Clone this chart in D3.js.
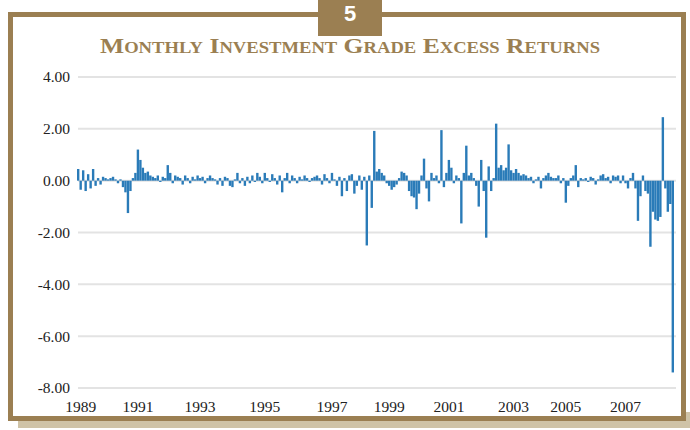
<!DOCTYPE html>
<html>
<head>
<meta charset="utf-8">
<script src="https://cdn.jsdelivr.net/npm/d3@7/dist/d3.min.js"></script>
<style>
  html, body { margin: 0; padding: 0; background: #fff; }
  svg { display: block; }
</style>
</head>
<body>
<svg id="chart" width="690" height="430"></svg>
<script>
// ---- Data (monthly excess returns, %, Jan 1989 - Dec 2008) ----
const y1989 = [0.45, -0.35, 0.40, -0.40, 0.25, -0.30, 0.45, -0.20, 0.10, -0.15, 0.15, 0.10];
const y1990 = [0.05, 0.10, 0.15, 0.05, -0.10, 0.05, -0.25, -0.45, -1.25, -0.40, 0.10, 0.30];
const y1991 = [1.20, 0.80, 0.50, 0.30, 0.35, 0.20, 0.15, 0.10, 0.20, -0.05, 0.15, 0.10];
const y1992 = [0.60, 0.30, -0.10, 0.20, 0.15, 0.10, -0.15, 0.20, 0.10, -0.10, 0.15, 0.05];
const y1993 = [0.20, 0.10, 0.15, -0.10, 0.10, 0.20, 0.10, 0.05, -0.15, 0.10, -0.20, 0.15];
const y1994 = [0.10, -0.20, -0.25, 0.05, 0.30, -0.10, 0.10, -0.20, 0.15, -0.10, 0.20, -0.05];
const y1995 = [0.30, 0.15, -0.10, 0.30, 0.10, -0.05, 0.25, 0.10, -0.15, 0.20, -0.45, 0.10];
const y1996 = [0.30, -0.10, 0.20, 0.10, -0.10, 0.15, 0.05, 0.20, 0.10, -0.05, 0.10, 0.15];
const y1997 = [0.20, 0.10, -0.15, 0.25, 0.10, -0.10, 0.30, 0.05, -0.20, 0.15, -0.60, 0.10];
const y1998 = [-0.40, 0.20, 0.25, -0.50, -0.20, 0.20, -0.35, 0.15, -2.50, 0.20, -1.05, 1.92];
const y1999 = [0.35, 0.45, 0.30, 0.20, -0.10, -0.20, -0.35, -0.25, -0.15, 0.10, 0.35, 0.30];
const y2000 = [0.20, -0.40, -0.60, -0.65, -1.10, -0.50, 0.20, 0.85, -0.30, -0.80, 0.30, 0.10];
const y2001 = [0.20, -0.10, 1.95, -0.25, 0.30, 0.80, 0.50, -0.10, 0.20, 0.10, -1.65, 0.30];
const y2002 = [1.35, 0.20, 0.30, 0.10, -0.20, -1.00, 0.80, -0.40, -2.20, 0.55, -0.40, 0.10];
const y2003 = [2.20, 0.50, 0.60, 0.40, 0.50, 1.40, 0.40, 0.30, 0.45, 0.30, 0.20, 0.25];
const y2004 = [0.20, 0.10, 0.15, -0.10, 0.05, 0.15, -0.30, 0.10, 0.20, 0.30, 0.15, 0.10];
const y2005 = [0.10, 0.20, -0.10, 0.10, -0.85, -0.20, 0.10, 0.20, 0.60, -0.25, 0.10, 0.05];
const y2006 = [0.10, -0.05, 0.15, 0.10, -0.15, 0.05, 0.20, 0.25, 0.10, 0.15, -0.10, 0.20];
const y2007 = [0.15, 0.20, -0.10, 0.20, -0.10, -0.30, 0.10, 0.30, -0.30, -1.55, -0.60, 0.20];
const y2008 = [-0.40, -0.50, -2.55, -1.20, -1.50, -1.55, -1.40, 2.45, -0.30, -1.20, -0.90, -7.40];

const returns = [].concat(y1989, y1990, y1991, y1992, y1993, y1994, y1995, y1996, y1997, y1998,
                          y1999, y2000, y2001, y2002, y2003, y2004, y2005, y2006, y2007, y2008);

const xTickLabels = ["1989", "1991", "1993", "1995", "1997", "1999", "2001", "2003", "2005", "2007"];
const xTickMonth  = [1, 24, 49, 75, 102, 125, 149, 175, 196, 220];   // month index each label sits at
const yTicks = [4, 2, 0, -2, -4, -6, -8];

const titleText = "Monthly Investment Grade Excess Returns";
const badgeText = "5";

// ---- Drawing ----
const svg = d3.select("#chart");
const brown = "#9b7f52";
const barColor = "#2a7bb8";

// frame shadow
svg.append("rect").attr("x", 18).attr("y", 412).attr("width", 672).attr("height", 16).attr("fill", "#cfc3a7");
// frame
svg.append("rect").attr("x", 10.5).attr("y", 14.5).attr("width", 673).attr("height", 404)
  .attr("fill", "#fff").attr("stroke", brown).attr("stroke-width", 5);

// badge
svg.append("rect").attr("x", 318).attr("y", 0).attr("width", 64).attr("height", 36).attr("fill", brown);
svg.append("text").attr("x", 350).attr("y", 21).attr("text-anchor", "middle")
  .attr("font-family", "Liberation Sans, Arial, sans-serif").attr("font-size", 22).attr("font-weight", "bold")
  .attr("fill", "#fff").text(badgeText);

// title in small caps
const title = svg.append("text").attr("x", 350).attr("y", 53).attr("text-anchor", "middle")
  .attr("font-family", "Liberation Serif, serif").attr("font-weight", "bold").attr("fill", brown)
  .attr("textLength", 500).attr("lengthAdjust", "spacingAndGlyphs");
titleText.split(" ").forEach((w, i) => {
  title.append("tspan").attr("font-size", 22).text((i ? " " : "") + w[0].toUpperCase());
  title.append("tspan").attr("font-size", 16).text(w.slice(1).toUpperCase());
});

// scales
const x = d3.scaleBand().domain(d3.range(returns.length)).range([77, 674]).paddingInner(0.04);
const y = d3.scaleLinear().domain([-8, 4]).range([388, 77]);

// gridlines
svg.append("g").selectAll("line").data(yTicks).join("line")
  .attr("x1", 78).attr("x2", 676)
  .attr("y1", d => y(d)).attr("y2", d => y(d))
  .attr("stroke", "#e3e3e3").attr("stroke-width", 2);

// y axis labels
const yAxis = svg.append("g").attr("transform", "translate(70,0)")
  .call(d3.axisLeft(y).tickValues(yTicks).tickSize(0).tickPadding(0).tickFormat(d => d.toFixed(2)));
yAxis.select(".domain").remove();
yAxis.selectAll("text").attr("font-family", "Liberation Serif, serif").attr("font-size", 15.5).attr("fill", "#222");

// bars
svg.append("g").selectAll("rect").data(returns).join("rect")
  .attr("x", (d, i) => x(i))
  .attr("width", x.bandwidth())
  .attr("y", d => y(Math.max(0, d)))
  .attr("height", d => Math.abs(y(d) - y(0)))
  .attr("fill", barColor);

// x axis labels
const xAxis = svg.append("g").attr("transform", "translate(0,397)")
  .call(d3.axisBottom(x).tickValues(xTickMonth).tickSize(0).tickPadding(4)
        .tickFormat((d) => xTickLabels[xTickMonth.indexOf(d)]));
xAxis.select(".domain").remove();
xAxis.selectAll("text").attr("font-family", "Liberation Serif, serif").attr("font-size", 15.5).attr("fill", "#222");
</script>
</body>
</html>
